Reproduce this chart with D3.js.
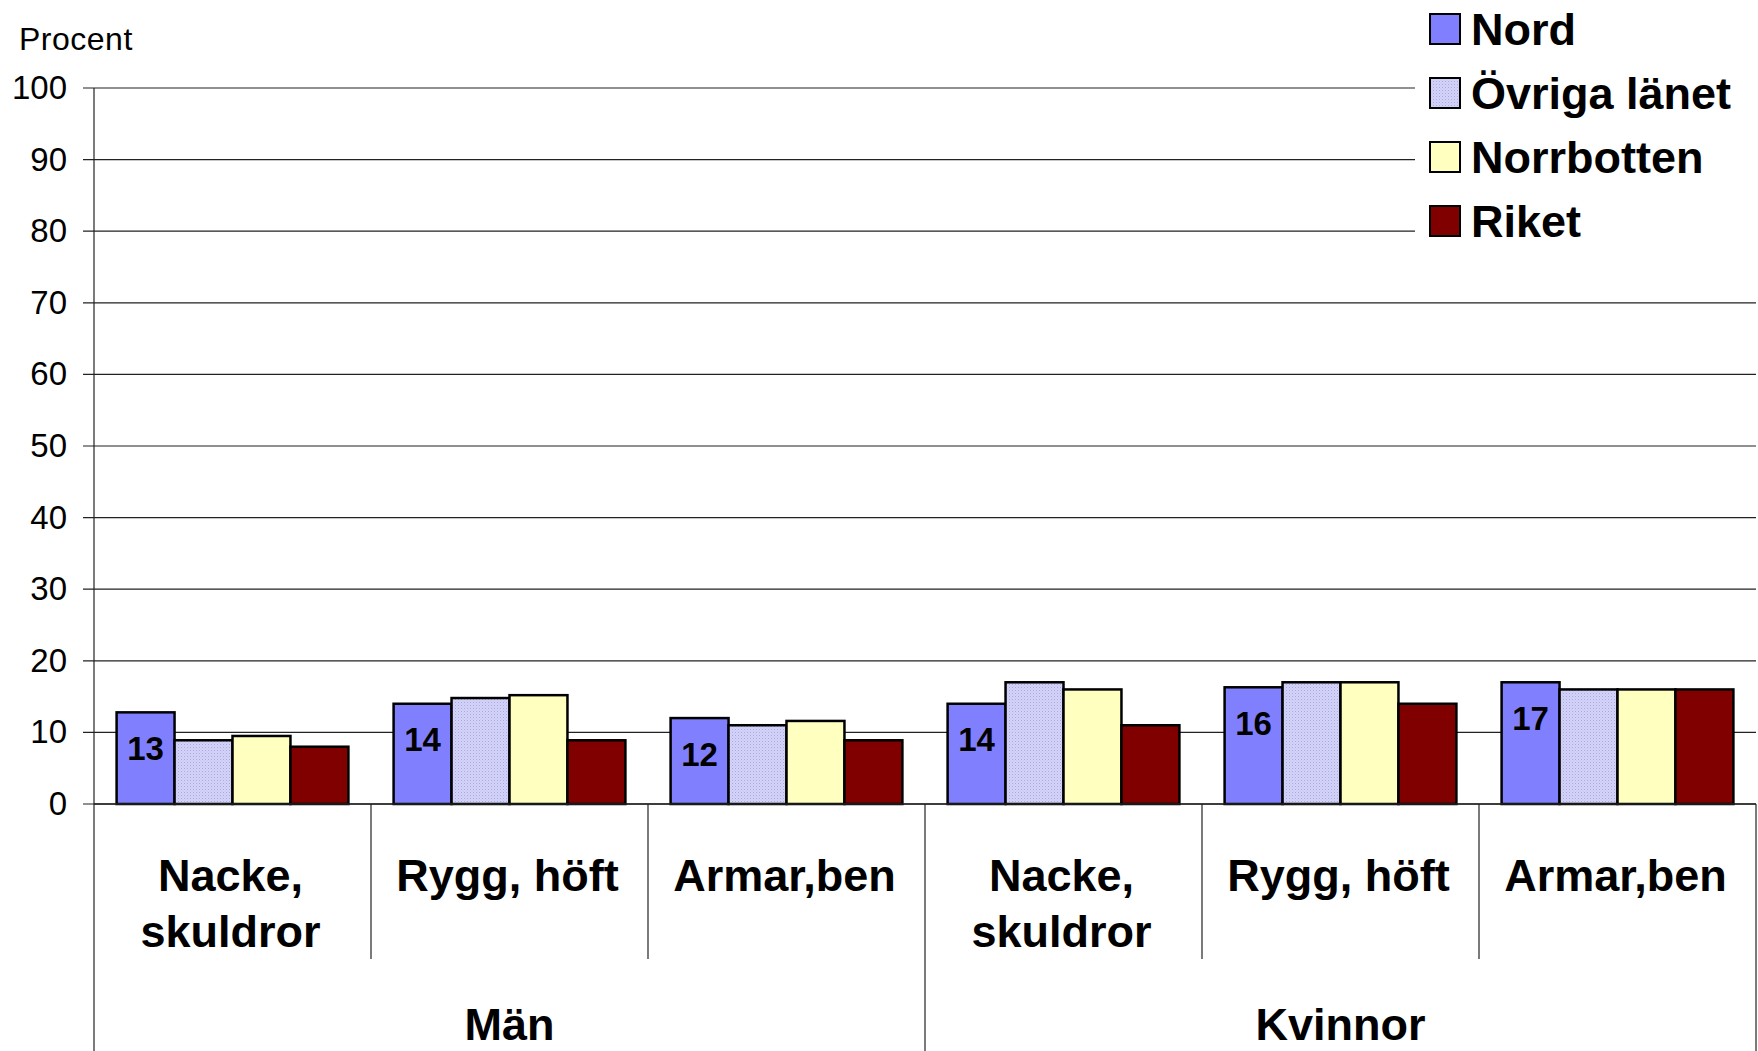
<!DOCTYPE html>
<html>
<head>
<meta charset="utf-8">
<script src="https://cdn.jsdelivr.net/npm/d3@7"></script>
<style>
  body { margin: 0; background: #fff; }
  text { font-family: "Liberation Sans", Arial, sans-serif; fill: #000; }
</style>
</head>
<body>
<svg id="chart"></svg>
<script>
const groups = ['Män', 'Kvinnor'];
const categories = [['Nacke,', 'skuldror'], ['Rygg, höft'], ['Armar,ben']];
const seriesNames = ['Nord', 'Övriga länet', 'Norrbotten', 'Riket'];
// one value per group+category, one array per series
const nord       = [12.8, 14.0, 12.0, 14.0, 16.3, 17.0];
const ovriga     = [8.9, 14.8, 11.0, 17.0, 17.0, 16.0];
const norrbotten = [9.5, 15.2, 11.6, 16.0, 17.0, 16.0];
const riket      = [8.0, 8.9, 8.9, 11.0, 14.0, 16.0];
const nordLabels = ['13', '14', '12', '14', '16', '17'];
const yTicks = [0, 10, 20, 30, 40, 50, 60, 70, 80, 90, 100];

const width = 1758, height = 1051;
const plotLeft = 94, plotRight = 1756, plotTop = 88, plotBottom = 804;

const svg = d3.select('#chart').attr('width', width).attr('height', height);

const defs = svg.append('defs');
const pat = defs.append('pattern')
  .attr('id', 'dots').attr('width', 3).attr('height', 3)
  .attr('patternUnits', 'userSpaceOnUse');
pat.append('rect').attr('width', 3).attr('height', 3).attr('fill', '#d4d4fa');
pat.append('rect').attr('width', 1).attr('height', 1).attr('fill', '#a8a8dc');
pat.append('rect').attr('x', 1.5).attr('y', 1.5).attr('width', 1).attr('height', 1).attr('fill', '#b8b8e8');

const fills = ['#8080ff', 'url(#dots)', '#ffffc0', '#800000'];

const slots = d3.range(nord.length);
const values = slots.map(i => [nord[i], ovriga[i], norrbotten[i], riket[i]]);

const x = d3.scaleBand().domain(slots).range([plotLeft, plotRight]).padding(0);
const xs = d3.scaleBand().domain(d3.range(4)).range([0, x.bandwidth()]).paddingInner(0).paddingOuter(0.39);
const y = d3.scaleLinear().domain([0, 100]).range([plotBottom, plotTop]);

// gridlines (top three stop at the legend)
svg.append('g').selectAll('line')
  .data(yTicks)
  .join('line')
  .attr('x1', plotLeft - 11)
  .attr('x2', d => d >= 80 ? 1415 : plotRight)
  .attr('y1', d => y(d)).attr('y2', d => y(d))
  .attr('stroke', '#222').attr('stroke-width', 1.2);

const yAxis = svg.append('g')
  .attr('transform', `translate(${plotLeft},0)`)
  .call(d3.axisLeft(y).tickValues(yTicks).tickSize(0).tickPadding(27));
yAxis.select('.domain').remove();
yAxis.selectAll('text')
  .style('font-family', '"Liberation Sans", Arial, sans-serif')
  .style('font-size', '33px').attr('fill', '#000');

svg.append('text').attr('x', 19).attr('y', 50)
  .style('font-size', '32px').style('letter-spacing', '0.5px').text('Procent');

// bars
const bars = svg.append('g').selectAll('g')
  .data(values)
  .join('g')
  .attr('transform', (d, i) => `translate(${x(i)},0)`);

bars.selectAll('rect')
  .data(d => d)
  .join('rect')
  .attr('x', (d, j) => xs(j))
  .attr('y', d => y(d))
  .attr('width', xs.bandwidth())
  .attr('height', d => y(0) - y(d))
  .attr('fill', (d, j) => fills[j])
  .attr('stroke', '#000').attr('stroke-width', 2.5);

bars.append('text')
  .attr('x', xs(0) + xs.bandwidth() / 2)
  .attr('y', d => y(d[0]) + 36)
  .attr('text-anchor', 'middle').attr('dominant-baseline', 'central')
  .style('font-size', '33px').style('font-weight', 'bold')
  .text((d, i) => nordLabels[i]);

// axis lines and category dividers
svg.append('line').attr('x1', plotLeft).attr('x2', plotLeft).attr('y1', plotTop).attr('y2', height)
  .attr('stroke', '#222').attr('stroke-width', 1.2);
svg.append('line').attr('x1', plotLeft).attr('x2', plotRight).attr('y1', plotBottom).attr('y2', plotBottom)
  .attr('stroke', '#222').attr('stroke-width', 1.5);

svg.append('g').selectAll('line')
  .data(d3.range(1, slots.length + 1))
  .join('line')
  .attr('x1', i => i === slots.length ? plotRight : x(i))
  .attr('x2', i => i === slots.length ? plotRight : x(i))
  .attr('y1', plotBottom)
  .attr('y2', i => i % 3 === 0 ? height : 959)
  .attr('stroke', '#222').attr('stroke-width', 1.2);

// category labels
const catLabels = svg.append('g').selectAll('text')
  .data(slots)
  .join('text')
  .attr('x', i => x(i) + x.bandwidth() / 2 - 2)
  .attr('y', 891)
  .attr('text-anchor', 'middle')
  .style('font-size', '45px').style('font-weight', 'bold');
catLabels.selectAll('tspan')
  .data(i => categories[i % 3])
  .join('tspan')
  .attr('x', function() { return this.parentNode.getAttribute('x'); })
  .attr('dy', (d, k) => k === 0 ? 0 : 56)
  .text(d => d);

svg.append('g').selectAll('text')
  .data(groups)
  .join('text')
  .attr('x', (d, g) => (x(g * 3) + x(g * 3 + 2) + x.bandwidth()) / 2)
  .attr('y', 1040)
  .attr('text-anchor', 'middle')
  .style('font-size', '45px').style('font-weight', 'bold')
  .text(d => d);

// legend
const legend = svg.append('g').attr('transform', 'translate(1430,29)');
const items = legend.selectAll('g')
  .data(seriesNames)
  .join('g')
  .attr('transform', (d, i) => `translate(0,${i * 64})`);
items.append('rect')
  .attr('x', 0).attr('y', -15).attr('width', 30).attr('height', 30)
  .attr('fill', (d, i) => fills[i])
  .attr('stroke', '#000').attr('stroke-width', 2);
items.append('text')
  .attr('x', 41).attr('y', 0).attr('dominant-baseline', 'central')
  .style('font-size', '45px').style('font-weight', 'bold')
  .text(d => d);
</script>
</body>
</html>
